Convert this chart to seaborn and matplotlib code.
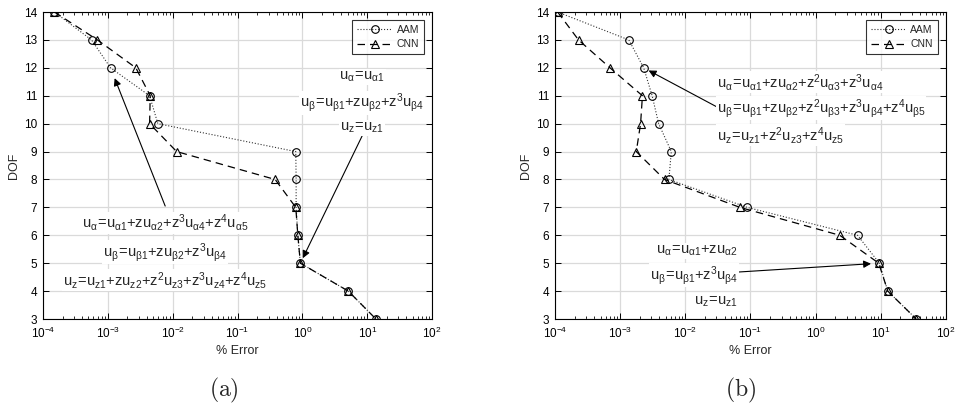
import numpy as np
import pandas as pd
import matplotlib
matplotlib.use("Agg")
import matplotlib.pyplot as plt
import matplotlib.ticker as mticker
import seaborn as sns

sns.set_theme(style="whitegrid")
plt.rcParams['font.family'] = ['Liberation Sans', 'DejaVu Sans']
plt.rcParams['mathtext.fontset'] = 'dejavusans'

# DOF levels and % error
dof = [14, 13, 12, 11, 10, 9, 8, 7, 6, 5, 4, 3]
a_aam = [1.5e-4, 5.6e-4, 1.1e-3, 4.4e-3, 5.9e-3, 0.79, 0.80, 0.80, 0.85, 0.93, 5.1, 13.6]
a_cnn = [1.5e-4, 6.9e-4, 2.7e-3, 4.5e-3, 4.4e-3, 1.15e-2, 0.38, 0.79, 0.85, 0.93, 5.1, 13.6]
b_aam = [1.1e-4, 1.36e-3, 2.3e-3, 3.1e-3, 3.9e-3, 6.1e-3, 5.6e-3, 0.089, 4.4, 9.5, 12.8, 35.0]
b_cnn = [1.1e-4, 2.3e-4, 7.0e-4, 2.2e-3, 2.06e-3, 1.77e-3, 4.8e-3, 0.069, 2.35, 9.3, 12.8, 35.0]
x_decades = [-4, -3, -2, -1, 0, 1, 2]

a_top = [r'$\mathregular{u_{\alpha}\!=\!u_{\alpha 1}}$',
         r'$\mathregular{u_{\beta}\!=\!u_{\beta 1}{+}zu_{\beta 2}{+}z^3u_{\beta 4}}$',
         r'$\mathregular{u_z\!=\!u_{z1}}$']
a_bot = [r'$\mathregular{u_{\alpha}\!=\!u_{\alpha 1}{+}zu_{\alpha 2}{+}z^3u_{\alpha 4}{+}z^4u_{\alpha 5}}$',
         r'$\mathregular{u_{\beta}\!=\!u_{\beta 1}{+}zu_{\beta 2}{+}z^3u_{\beta 4}}$',
         r'$\mathregular{u_z\!=\!u_{z1}{+}zu_{z2}{+}z^2u_{z3}{+}z^3u_{z4}{+}z^4u_{z5}}$']
b_top = [r'$\mathregular{u_{\alpha}\!=\!u_{\alpha 1}{+}zu_{\alpha 2}{+}z^2u_{\alpha 3}{+}z^3u_{\alpha 4}}$',
         r'$\mathregular{u_{\beta}\!=\!u_{\beta 1}{+}zu_{\beta 2}{+}z^2u_{\beta 3}{+}z^3u_{\beta 4}{+}z^4u_{\beta 5}}$',
         r'$\mathregular{u_z\!=\!u_{z1}{+}z^2u_{z3}{+}z^4u_{z5}}$']
b_bot = [r'$\mathregular{u_{\alpha}\!=\!u_{\alpha 1}{+}zu_{\alpha 2}}$',
         r'$\mathregular{u_{\beta}\!=\!u_{\beta 1}{+}z^3u_{\beta 4}}$',
         r'$\mathregular{u_z\!=\!u_{z1}}$']

fig = plt.figure(figsize=(9.56, 4.09), dpi=100)
ax_a = fig.add_axes([0.045, 0.22, 0.407, 0.7506])
ax_b = fig.add_axes([0.5805, 0.22, 0.409, 0.7506])


def style_axis(ax):
    ax.set_xscale('log')
    ax.set_xlim(1e-4, 1e2)
    ax.set_ylim(3, 14)
    ax.set_yticks(range(3, 15))
    ax.xaxis.set_major_locator(mticker.FixedLocator([10.0 ** d for d in x_decades]))
    ax.xaxis.set_major_formatter(mticker.LogFormatterSciNotation())
    ax.xaxis.set_minor_locator(mticker.LogLocator(base=10, subs=np.arange(2, 10), numticks=20))
    ax.xaxis.set_minor_formatter(mticker.NullFormatter())
    ax.grid(True, which='major', color='#dadada', lw=0.9)
    ax.grid(False, which='minor')
    ax.set_facecolor('white')
    for sp in ax.spines.values():
        sp.set_color('black')
        sp.set_linewidth(0.8)
    ax.tick_params(which='both', direction='in', top=True, right=True,
                   bottom=True, left=True, colors='black', labelsize=8.5)
    ax.tick_params(axis='x', pad=5)
    ax.tick_params(axis='y', pad=4)
    ax.tick_params(which='major', length=4, width=0.7)
    ax.tick_params(which='minor', length=2, width=0.6)
    ax.set_xlabel('% Error', fontsize=9, labelpad=3)
    ax.set_ylabel('DOF', fontsize=9, labelpad=3)


def draw(ax, aam, cnn):
    df = pd.DataFrame({'err': aam + cnn, 'DOF': dof + dof,
                       'model': ['AAM'] * len(dof) + ['CNN'] * len(dof)})
    sns.lineplot(data=df[df.model == 'AAM'], x='err', y='DOF', sort=False, estimator=None,
                 ax=ax, color='#333333', lw=0.8, linestyle=':', marker='o', markersize=5.5,
                 markerfacecolor='none', markeredgecolor='black', markeredgewidth=0.8,
                 label='AAM')
    sns.lineplot(data=df[df.model == 'CNN'], x='err', y='DOF', sort=False, estimator=None,
                 ax=ax, color='black', lw=0.9, linestyle=(0, (6, 4)), marker='^', markersize=6,
                 markerfacecolor='none', markeredgecolor='black', markeredgewidth=0.8,
                 label='CNN')
    style_axis(ax)
    leg = ax.legend(loc='upper right', fontsize=7.5, frameon=True, fancybox=False,
                    handlelength=3.4, borderpad=0.45, labelspacing=0.4,
                    handletextpad=0.4, borderaxespad=0.8)
    leg.get_frame().set_edgecolor('black')
    leg.get_frame().set_linewidth(0.8)


def block(ax, lines, x, ys, ha):
    for s, y in zip(lines, ys):
        ax.text(x, y, s, transform=ax.transAxes, ha=ha, va='center', fontsize=10.5,
                bbox=dict(facecolor='white', edgecolor='none', pad=0.5))


def arrow(ax, x, y, fx, fy, shrink):
    ax.annotate('', xy=(x, y), xycoords='data', xytext=(fx, fy), textcoords='axes fraction',
                arrowprops=dict(arrowstyle='-|>', color='black', lw=0.8,
                                shrinkA=0, shrinkB=shrink, mutation_scale=11))


draw(ax_a, a_aam, a_cnn)
draw(ax_b, b_aam, b_cnn)

arrow(ax_a, a_aam[9], dof[9], 0.820, 0.596, 4)
arrow(ax_a, a_aam[2], dof[2], 0.314, 0.368, 8)
arrow(ax_b, b_aam[2], dof[2], 0.414, 0.691, 4)
arrow(ax_b, b_aam[9], dof[9], 0.468, 0.153, 6)

block(ax_a, a_top, 0.820, [0.788, 0.704, 0.622], 'center')
block(ax_a, a_bot, 0.314, [0.313, 0.218, 0.127], 'center')
block(ax_b, b_top, 0.414, [0.772, 0.687, 0.599], 'left')
block(ax_b, b_bot, 0.468, [0.221, 0.143, 0.055], 'right')

fig.text(0.234, 0.046, r'$\mathrm{(a)}$', ha='center', va='center', fontsize=17, math_fontfamily='cm')
fig.text(0.775, 0.046, r'$\mathrm{(b)}$', ha='center', va='center', fontsize=17, math_fontfamily='cm')

fig.savefig('out.png', dpi=100, facecolor='white')
plt.close()
